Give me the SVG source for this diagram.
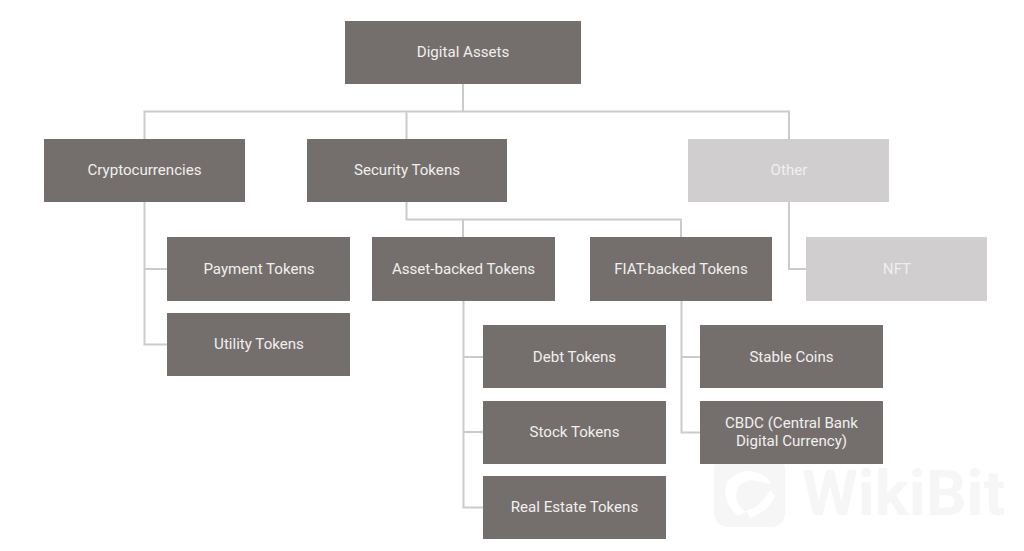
<svg xmlns="http://www.w3.org/2000/svg" width="1024" height="551" viewBox="0 0 1024 551">
<style>
.n{fill:#746f6d}
.o{fill:#d0cece}
text{font-family:Roboto,"Liberation Sans",sans-serif;font-size:15.1px;fill:#f0efee;text-anchor:middle}
.c{fill:none;stroke:#cbcbcb;stroke-width:2}
.w{font-weight:700;font-size:63px;fill:#f6f6f6;text-anchor:start}
</style>
<rect width="1024" height="551" fill="#fff"/>
<g id="connectors">
<path class="c" d="M463 84V111M144.500 139V111.500H789V139M406.500 111.500V139"/>
<path class="c" d="M144.500 202V344.500H167M144.500 269H167"/>
<path class="c" d="M406.500 202V219.500H681V237M463 219.500V237"/>
<path class="c" d="M463.500 301V507.500H483M463.500 357H483M463.500 432H483"/>
<path class="c" d="M681.500 301V432.500H700M681.500 357H700"/>
<path class="c" d="M789 202V269H806"/>
</g>
<g id="watermark">
<rect x="714" y="456" width="71" height="71" rx="14" fill="#f6f6f6"/>
<path d="M727 482Q745 462 768 478L771 484L752 480Q738 482 736 494Q736 506 746 512L738 516Q720 500 727 482Z" fill="#fff"/>
<path d="M770 490L775 496Q768 512 750 518L746 511Q762 506 770 490Z" fill="#fff"/>
<text class="w" x="802" y="515" textLength="203" lengthAdjust="spacingAndGlyphs">WikiBit</text>
</g>
<g id="digital-assets"><rect class="n" x="345" y="21" width="236" height="63"/><text x="463" y="57">Digital Assets</text></g>
<g id="cryptocurrencies"><rect class="n" x="44" y="139" width="201" height="63"/><text x="144.500" y="175">Cryptocurrencies</text></g>
<g id="security-tokens"><rect class="n" x="307" y="139" width="200" height="63"/><text x="407" y="175">Security Tokens</text></g>
<g id="other"><rect class="o" x="688" y="139" width="201" height="63"/><text x="789" y="175">Other</text></g>
<g id="payment-tokens"><rect class="n" x="167" y="237" width="183" height="64"/><text x="259" y="274">Payment Tokens</text></g>
<g id="utility-tokens"><rect class="n" x="167" y="313" width="183" height="63"/><text x="259" y="349">Utility Tokens</text></g>
<g id="asset-backed-tokens"><rect class="n" x="372" y="237" width="183" height="64"/><text x="463.500" y="274">Asset-backed Tokens</text></g>
<g id="fiat-backed-tokens"><rect class="n" x="590" y="237" width="182" height="64"/><text x="681" y="274">FIAT-backed Tokens</text></g>
<g id="nft"><rect class="o" x="806" y="237" width="181" height="64"/><text x="897" y="274">NFT</text></g>
<g id="debt-tokens"><rect class="n" x="483" y="325" width="183" height="63"/><text x="574.500" y="362">Debt Tokens</text></g>
<g id="stock-tokens"><rect class="n" x="483" y="401" width="183" height="63"/><text x="574.500" y="437">Stock Tokens</text></g>
<g id="real-estate-tokens"><rect class="n" x="483" y="476" width="183" height="63"/><text x="574.500" y="512">Real Estate Tokens</text></g>
<g id="stable-coins"><rect class="n" x="700" y="325" width="183" height="63"/><text x="791.500" y="362">Stable Coins</text></g>
<g id="cbdc"><rect class="n" x="700" y="401" width="183" height="63"/><text x="791.500" y="428">CBDC (Central Bank</text><text x="791.500" y="446">Digital Currency)</text></g>
</svg>
